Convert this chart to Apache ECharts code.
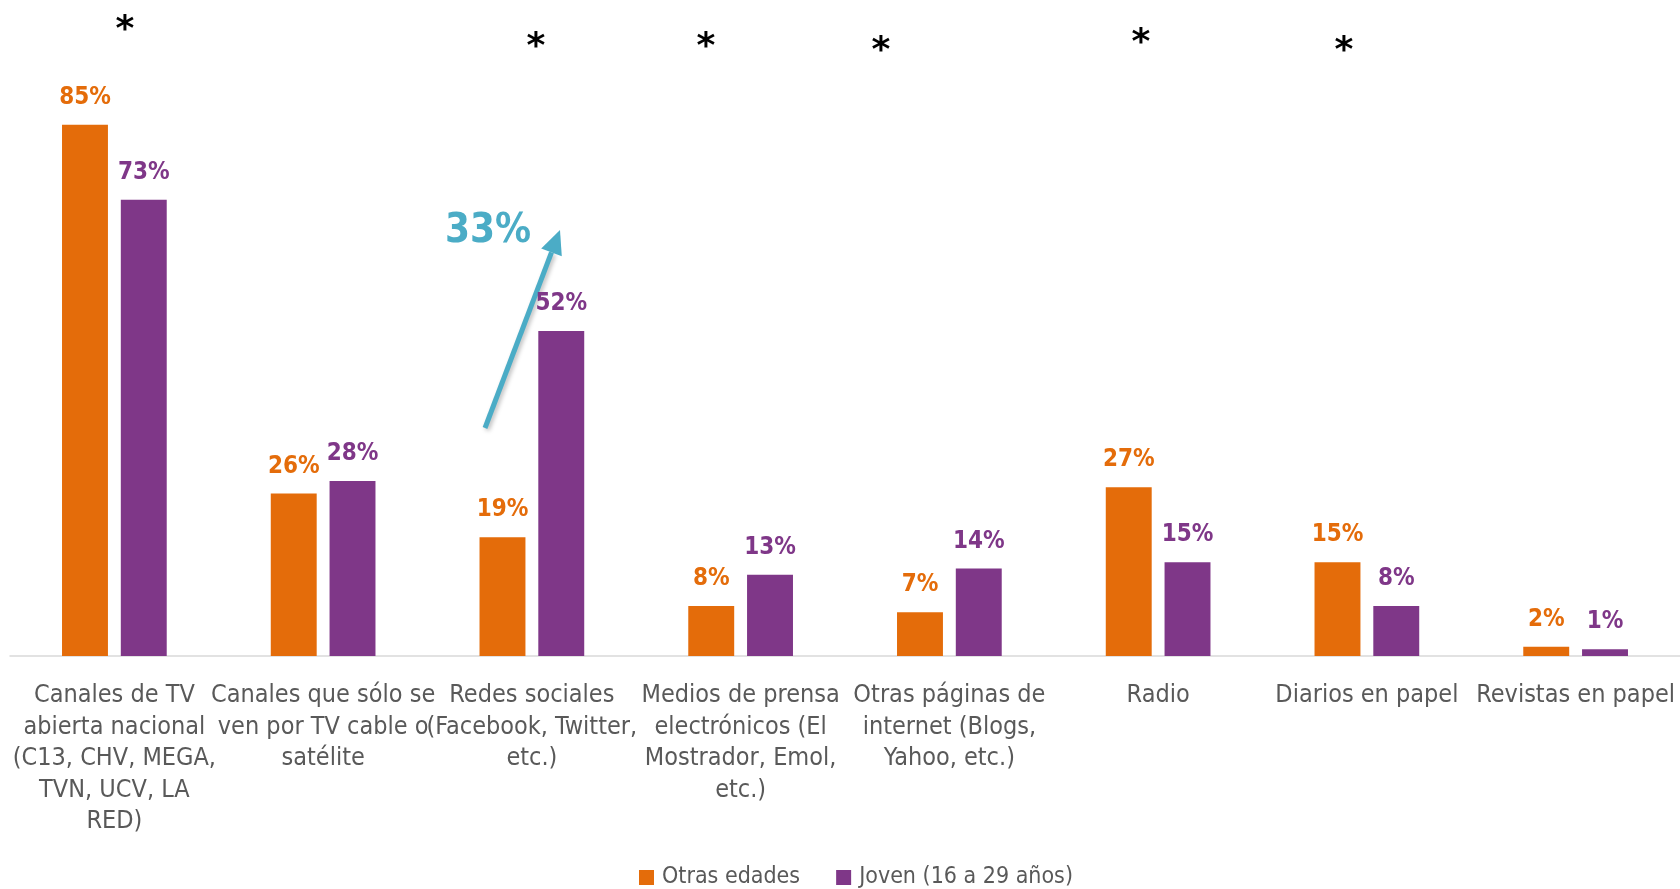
<!DOCTYPE html>
<html>
<head>
<meta charset="utf-8">
<script src="https://cdn.jsdelivr.net/npm/echarts@6/dist/echarts.min.js"></script>
<style>
  html, body { margin: 0; padding: 0; background: #ffffff; }
  #main { width: 1680px; height: 889px; }
</style>
</head>
<body>
<div id="main"></div>
<script>
// categorias (eje x)
var categorias = [
    'Canales de TV\nabierta nacional\n(C13, CHV, MEGA,\nTVN, UCV, LA\nRED)',
    'Canales que sólo se\nven por TV cable o\nsatélite',
    'Redes sociales\n(Facebook, Twitter,\netc.)',
    'Medios de prensa\nelectrónicos (El\nMostrador, Emol,\netc.)',
    'Otras páginas de\ninternet (Blogs,\nYahoo, etc.)',
    'Radio',
    'Diarios en papel',
    'Revistas en papel'
];
var otrasEdades = [85, 26, 19, 8, 7, 27, 15, 1.5];
var joven = [73, 28, 52, 13, 14, 15, 8, 1.1];
var nombresSerie = ['Otras edades', 'Joven (16 a 29 años)'];

var fontNarrow = "'Liberation Sans Narrow', 'Arial Narrow', 'DejaVu Sans Condensed', sans-serif";
var naranja = '#E46C0A';
var morado = '#7F3788';
var celeste = '#4BACC6';

const myCharts = echarts.init(document.getElementById('main'));

// flecha de 33%
var tail = [485, 428], tip = [560, 230];
var dx = tip[0] - tail[0], dy = tip[1] - tail[1];
var len = Math.sqrt(dx * dx + dy * dy);
var ux = dx / len, uy = dy / len;
var headLen = 24, headW = 11;
var bx = tip[0] - ux * headLen, by = tip[1] - uy * headLen;

// asteriscos sobre las categorias
var asteriscos = [[125, 31], [536, 48], [706, 48], [881, 52], [1141, 44], [1344, 52]];
var graficos = asteriscos.map(function (p) {
    return {
        type: 'text', x: p[0], y: p[1],
        style: { text: '*', font: 'bold 36px DejaVu Sans', fill: '#000', align: 'center', verticalAlign: 'middle' }
    };
});
graficos.push({
    type: 'line',
    shape: { x1: tail[0], y1: tail[1], x2: bx, y2: by },
    style: { stroke: celeste, lineWidth: 5, shadowBlur: 4, shadowColor: 'rgba(0,0,0,0.25)', shadowOffsetX: 2, shadowOffsetY: 2 }
});
graficos.push({
    type: 'polygon',
    shape: { points: [tip, [bx - uy * headW, by + ux * headW], [bx + uy * headW, by - ux * headW]] },
    style: { fill: celeste }
});
graficos.push({
    type: 'text', x: 488, y: 232,
    style: { text: '33%', font: 'bold 40px ' + fontNarrow, fill: celeste, align: 'center', verticalAlign: 'middle' }
});

var option = {
    animation: false,
    grid: {
        left: 10,
        right: 0,
        top: 31,
        bottom: 233
    },
    legend: {
        top: 861,
        left: 634,
        itemWidth: 15,
        itemHeight: 15,
        itemGap: 36,
        icon: 'rect',
        textStyle: { fontSize: 23, color: '#595959', fontFamily: fontNarrow, padding: [0, 0, 0, 3] },
        data: nombresSerie
    },
    xAxis: {
        type: 'category',
        data: categorias,
        axisLine: { show: true, lineStyle: { color: '#D9D9D9', width: 1.5 } },
        axisTick: { show: false },
        axisLabel: {
            interval: 0,
            margin: 24,
            fontSize: 25,
            lineHeight: 31.5,
            color: '#595959',
            fontFamily: fontNarrow
        }
    },
    yAxis: {
        type: 'value',
        min: 0,
        max: 100,
        show: false,
        splitLine: { show: false }
    },
    series: [{
        name: nombresSerie[0],
        type: 'bar',
        barWidth: '22%',
        barGap: '28%',
        itemStyle: { color: naranja },
        label: {
            show: true,
            position: 'top',
            distance: 15,
            formatter: function (p) { return Math.round(p.value) + '%'; },
            color: naranja,
            fontSize: 24,
            fontWeight: 'bold',
            fontFamily: fontNarrow
        },
        data: otrasEdades
    }, {
        name: nombresSerie[1],
        type: 'bar',
        barWidth: '22%',
        itemStyle: { color: morado },
        label: {
            show: true,
            position: 'top',
            distance: 15,
            formatter: function (p) { return Math.round(p.value) + '%'; },
            color: morado,
            fontSize: 24,
            fontWeight: 'bold',
            fontFamily: fontNarrow
        },
        data: joven
    }],
    graphic: graficos
};
myCharts.setOption(option);
</script>
</body>
</html>
